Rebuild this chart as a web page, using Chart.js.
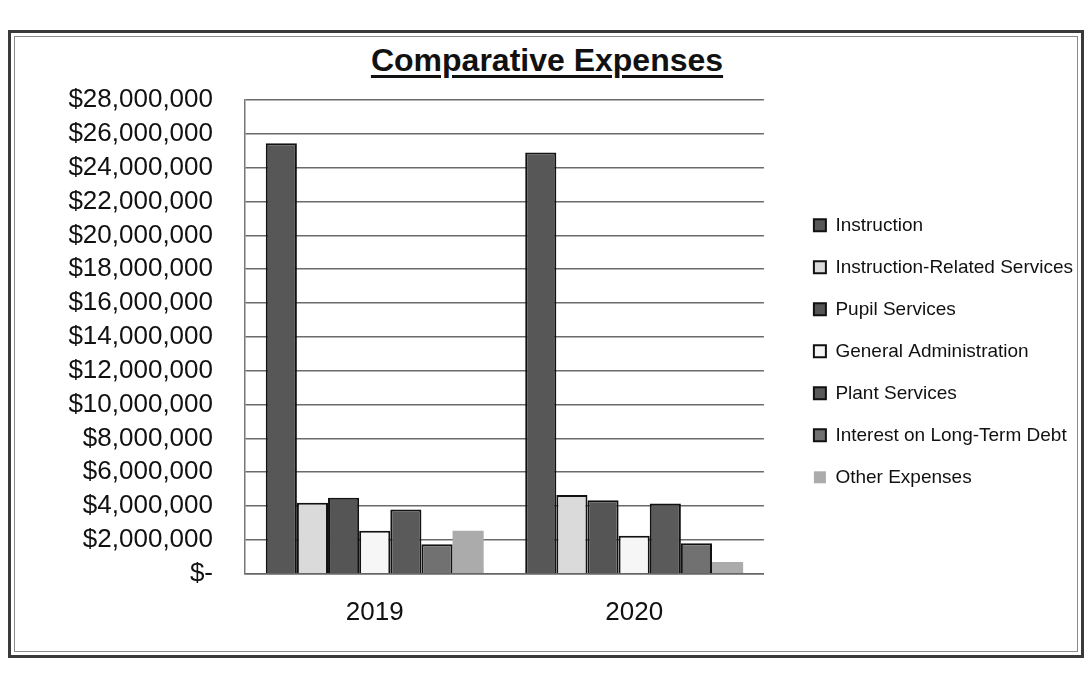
<!DOCTYPE html>
<html>
<head>
<meta charset="utf-8">
<script src="https://cdn.jsdelivr.net/npm/chart.js@4/dist/chart.umd.min.js"></script>
<style>
  html, body { margin: 0; padding: 0; background: #fff; overflow: hidden; }
  body { width: 1089px; height: 673px; position: relative; }
  #frame {
    position: absolute; left: 8px; top: 30px; width: 1070px; height: 622px;
    border: 3px solid #3a3a3a;
    box-shadow: inset 0 0 0 3px #fff, inset 0 0 0 4px #8a8a8a;
  }
  #title {
    position: absolute; left: 0; width: 1094px; top: 42px; text-align: center;
    font: bold 32px "Liberation Sans", Arial, sans-serif; color: #111;
    text-decoration: underline; text-decoration-thickness: 3px; text-underline-offset: 4px;
  }
  #chart { position: absolute; left: 0; top: 0; }
</style>
</head>
<body>
<div id="frame"></div>
<div id="title">Comparative Expenses</div>
<canvas id="chart" width="1110" height="673"></canvas>
<script>
const years = ['2019', '2020'];

const seriesNames = [
  'Instruction',
  'Instruction-Related Services',
  'Pupil Services',
  'General Administration',
  'Plant Services',
  'Interest on Long-Term Debt',
  'Other Expenses'
];

// giá trị (USD)
const instruction = [25450000, 24900000];
const instructionRelated = [4200000, 4650000];
const pupilServices = [4500000, 4350000];
const generalAdmin = [2550000, 2250000];
const plantServices = [3800000, 4150000];
const interestDebt = [1750000, 1800000];
const otherExpenses = [2550000, 700000];

const yMax = 28000000;
const yStep = 2000000;

const fills = ['#575757', '#dadada', '#555555', '#f6f6f6', '#5a5a5a', '#717171', '#ababab'];
const borders = [2, 2, 2, 2, 2, 2, 0];

const allValues = [instruction, instructionRelated, pupilServices, generalAdmin, plantServices, interestDebt, otherExpenses];

const datasets = allValues.map((vals, i) => ({
  label: seriesNames[i],
  data: vals,
  backgroundColor: fills[i],
  borderColor: '#111',
  borderWidth: borders[i],
  borderSkipped: 'bottom'
}));

const font = '"Liberation Sans", Arial, sans-serif';

new Chart(document.getElementById('chart'), {
  type: 'bar',
  data: { labels: years, datasets: datasets },
  options: {
    responsive: false,
    animation: false,
    layout: { padding: { top: 100, bottom: 30, left: 66, right: 27 } },
    datasets: { bar: { categoryPercentage: 0.84, barPercentage: 1 } },
    plugins: {
      title: { display: false },
      tooltip: { enabled: false },
      legend: {
        position: 'right',
        align: 'start',
        maxWidth: 420,
        // tiêu đề rỗng chỉ để đẩy các mục xuống giữa
        title: { display: true, text: '', font: { family: font, size: 19 }, padding: { top: 70, bottom: 0 } },
        labels: {
          color: '#111',
          font: { family: font, size: 19 },
          boxWidth: 12,
          boxHeight: 12,
          padding: 23
        }
      }
    },
    scales: {
      x: {
        grid: { display: false },
        border: { color: '#666', width: 1.5 },
        ticks: { color: '#111', font: { family: font, size: 26 }, padding: 15 }
      },
      y: {
        min: 0,
        max: yMax,
        grid: { color: '#6a6a6a', lineWidth: 1.6, drawTicks: false },
        border: { color: '#777', width: 1.5 },
        afterFit: s => { s.width = 179; },
        ticks: {
          stepSize: yStep,
          autoSkip: false,
          padding: 32,
          color: '#111',
          font: { family: font, size: 26 },
          callback: v => v === 0 ? '$-' : '$' + v.toLocaleString('en-US')
        }
      },
      // trục giả bên phải để đẩy legend ra xa vùng vẽ
      gap: {
        type: 'linear',
        position: 'right',
        display: true,
        grid: { display: false },
        border: { display: false },
        ticks: { display: false },
        afterFit: s => { s.width = 27; }
      }
    }
  }
});
</script>
</body>
</html>
